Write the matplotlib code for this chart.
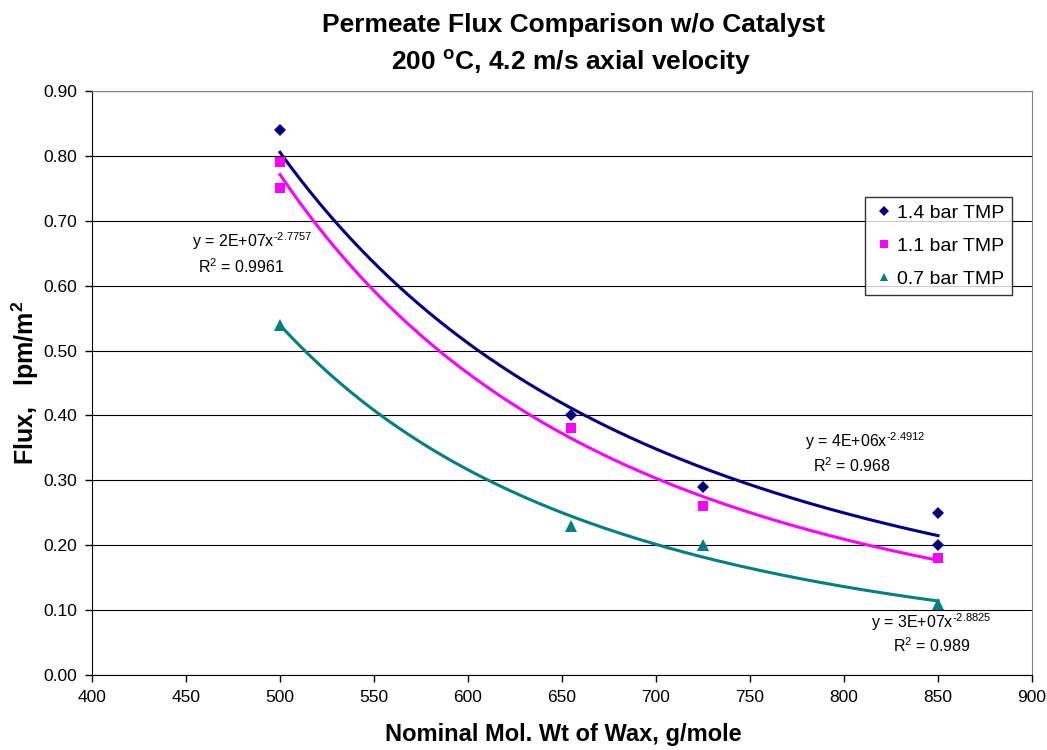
import numpy as np
import matplotlib
matplotlib.use("Agg")
import matplotlib.pyplot as plt

plt.rcParams['font.family'] = ['Liberation Sans', 'DejaVu Sans']
plt.rcParams['mathtext.fontset'] = 'custom'
plt.rcParams['mathtext.rm'] = 'Liberation Sans'
plt.rcParams['mathtext.it'] = 'Liberation Sans:italic'
plt.rcParams['mathtext.bf'] = 'Liberation Sans:bold'

# Measured permeate flux (lpm/m^2) vs nominal molecular weight of wax (g/mole)
mw_14 = [500, 655, 725, 850, 850]
flux_14 = [0.84, 0.40, 0.29, 0.25, 0.20]
mw_11 = [500, 500, 655, 725, 850]
flux_11 = [0.79, 0.75, 0.38, 0.26, 0.18]
mw_07 = [500, 655, 725, 850]
flux_07 = [0.54, 0.23, 0.20, 0.11]

labels = ['1.4 bar TMP', '1.1 bar TMP', '0.7 bar TMP']
colors = ['#000080', '#FF00FF', '#008080']
markers = ['D', 's', '^']
msizes = [6.2, 7.5, 8]

eq_texts = [
    (r'y = 4E+06x$^{\text{-2.4912}}$', r'R$\mathregular{^2}$ = 0.968'),
    (r'y = 2E+07x$^{\text{-2.7757}}$', r'R$\mathregular{^2}$ = 0.9961'),
    (r'y = 3E+07x$^{\text{-2.8825}}$', r'R$\mathregular{^2}$ = 0.989'),
]
# label anchor points in data coordinates (equation line, R^2 line)
eq_pos = [((811.5, 0.360), (804.0, 0.323)),
          ((485.0, 0.668), (479.5, 0.630)),
          ((846.5, 0.082), (847.0, 0.045))]

fig = plt.figure(figsize=(10.47, 7.5), dpi=100)
ax = fig.add_axes([0.0879, 0.1, 0.8978, 0.7787])

series = [(mw_14, flux_14), (mw_11, flux_11), (mw_07, flux_07)]
handles = []
for (x, y), c, m, ms, lab in zip(series, colors, markers, msizes, labels):
    x = np.asarray(x, float)
    y = np.asarray(y, float)
    # power-law trendline fitted in log-log space
    b, a = np.polyfit(np.log(x), np.log(y), 1)
    xs = np.linspace(x.min(), x.max(), 200)
    ax.plot(xs, np.exp(a) * xs ** b, color=c, lw=2.2, zorder=2)
    h, = ax.plot(x, y, linestyle='none', marker=m, color=c, markersize=ms,
                 markeredgewidth=0, zorder=3, label=lab)
    handles.append(h)

for (eq, r2), ((x1, y1), (x2, y2)) in zip(eq_texts, eq_pos):
    ax.text(x1, y1, eq, fontsize=11.5, ha='center', va='center')
    ax.text(x2, y2, r2, fontsize=11.5, ha='center', va='center')

ax.set_xlim(400, 900)
ax.set_ylim(0, 0.9)
ax.set_xticks(np.arange(400, 901, 50))
ax.set_yticks(np.arange(0, 0.91, 0.1))
ax.yaxis.set_major_formatter(matplotlib.ticker.FormatStrFormatter('%.2f'))
ax.tick_params(direction='out', length=5, labelsize=12.5, width=1, color='black', pad=6)
ax.yaxis.grid(True, color='black', lw=0.8)
ax.set_axisbelow(True)
for side in ['top', 'right']:
    ax.spines[side].set_color('#808080')
for side in ['left', 'bottom']:
    ax.spines[side].set_color('black')

fig.text(563 / 1047, 1 - 735 / 750, 'Nominal Mol. Wt of Wax, g/mole', fontsize=17,
         fontweight='bold', ha='center', va='center')
fig.text(25 / 1047, 1 - 383 / 750, r'Flux,   lpm/m$\mathbf{^2}$', fontsize=18,
         fontweight='bold', ha='center', va='center', rotation=90)
fig.text(573 / 1047, 1 - 25 / 750, 'Permeate Flux Comparison w/o Catalyst', fontsize=19,
         fontweight='bold', ha='center', va='center')
fig.text(571 / 1047, 1 - 63 / 750, r'200 $\mathbf{^o}$C, 4.2 m/s axial velocity', fontsize=19,
         fontweight='bold', ha='center', va='center')

leg = ax.legend(handles=handles, loc='upper left', bbox_to_anchor=(0.822, 0.8185),
                borderaxespad=0, fontsize=14, frameon=True, fancybox=False,
                edgecolor='black', handlelength=1.2, handletextpad=0.1,
                labelspacing=0.78, borderpad=0.38, markerscale=0.8)
leg.get_frame().set_linewidth(1)

fig.savefig('out.png', dpi=100)
